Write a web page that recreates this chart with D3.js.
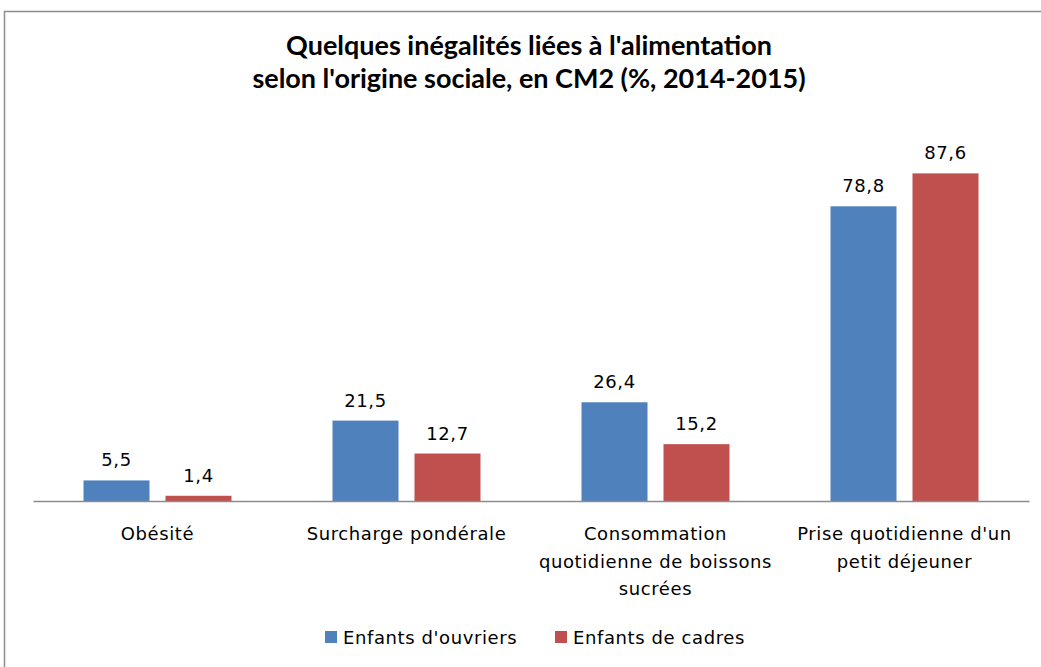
<!DOCTYPE html>
<html><head><meta charset="utf-8">
<script src="https://cdn.jsdelivr.net/npm/d3@7"></script>
<style>body{margin:0;background:#fff}svg{display:block}</style>
</head><body>
<svg id="c" width="1041" height="667"></svg>
<script>
const categories = ["Obésité", "Surcharge pondérale", "Consommation quotidienne de boissons sucrées", "Prise quotidienne d'un petit déjeuner"];
const categoryLines = [["Obésité"], ["Surcharge pondérale"], ["Consommation", "quotidienne de boissons", "sucrées"], ["Prise quotidienne d'un", "petit déjeuner"]];
const seriesNames = ["Enfants d'ouvriers", "Enfants de cadres"];
const ouvriers = [5.5, 21.5, 26.4, 78.8];
const cadres = [1.4, 12.7, 15.2, 87.6];
const titleLines = ["Quelques inégalités liées à l'alimentation", "selon l'origine sociale, en CM2 (%, 2014-2015)"];
const colors = ["#4F81BD", "#C0504D"];

const svg = d3.select("#c");
svg.append("rect").attr("x", 4.5).attr("y", 11.5).attr("width", 1060).attr("height", 680)
  .attr("fill", "#fff").attr("stroke", "#8c8c8c").attr("stroke-width", 1.5);

const x0 = d3.scaleBand().domain(categories).range([33, 1029]);
const x1 = d3.scaleBand().domain(seriesNames).range([0, x0.bandwidth()]).paddingInner(0.195).paddingOuter(0.616);
const y = d3.scaleLinear().domain([0, 100]).range([501, 127]);

const font = "'DejaVu Sans', Verdana, sans-serif";
// title
const tt = svg.append("g");
titleLines.forEach((t, i) => {
  tt.append("text").attr("x", 529).attr("y", 55 + i * 33).attr("text-anchor", "middle")
    .attr("font-family", "Lato, 'Open Sans', sans-serif").attr("font-weight", "bold").attr("font-size", 24)
    .attr("fill", "#000").text(t);
});
// fit title to reference widths
const w0 = tt.select("text").node().getComputedTextLength();
const fs = 24 * 486 / w0;
tt.selectAll("text").attr("font-size", fs);

const data = categories.map((c, i) => ({cat: c, vals: [ouvriers[i], cadres[i]]}));
const g = svg.append("g");
data.forEach(d => {
  d.vals.forEach((v, j) => {
    const bx = x0(d.cat) + x1(seriesNames[j]);
    g.append("rect").attr("x", bx).attr("y", y(v)).attr("width", x1.bandwidth())
      .attr("height", y(0) - y(v)).attr("fill", colors[j]);
    g.append("text").attr("x", bx + x1.bandwidth() / 2).attr("y", y(v) - 14)
      .attr("text-anchor", "middle").attr("font-family", font).attr("font-size", 18)
      .attr("letter-spacing", 0.6).attr("fill", "#000").text(d3.format(".1f")(v).replace(".", ","));
  });
});

// axis
const ax = svg.append("g").attr("transform", `translate(0,${y(0)})`)
  .call(d3.axisBottom(x0).tickSize(0).tickFormat(""));
ax.select(".domain").attr("stroke", "#8c8c8c").attr("stroke-width", 1.5);

categories.forEach((c, i) => {
  const t = svg.append("text").attr("text-anchor", "middle").attr("font-family", font)
    .attr("font-size", 18).attr("letter-spacing", 0.6).attr("fill", "#000");
  categoryLines[i].forEach((l, k) => {
    t.append("tspan").attr("x", x0(c) + x0.bandwidth() / 2).attr("y", 540 + k * 27.5).text(l);
  });
});

// legend
const legX = [325, 555];
seriesNames.forEach((s, j) => {
  svg.append("rect").attr("x", legX[j]).attr("y", 631).attr("width", 12).attr("height", 12).attr("fill", colors[j]);
  svg.append("text").attr("x", legX[j] + 18).attr("y", 644).attr("font-family", font).attr("font-size", 18)
    .attr("letter-spacing", 0.6).attr("fill", "#000").text(s);
});
</script>
</body></html>
